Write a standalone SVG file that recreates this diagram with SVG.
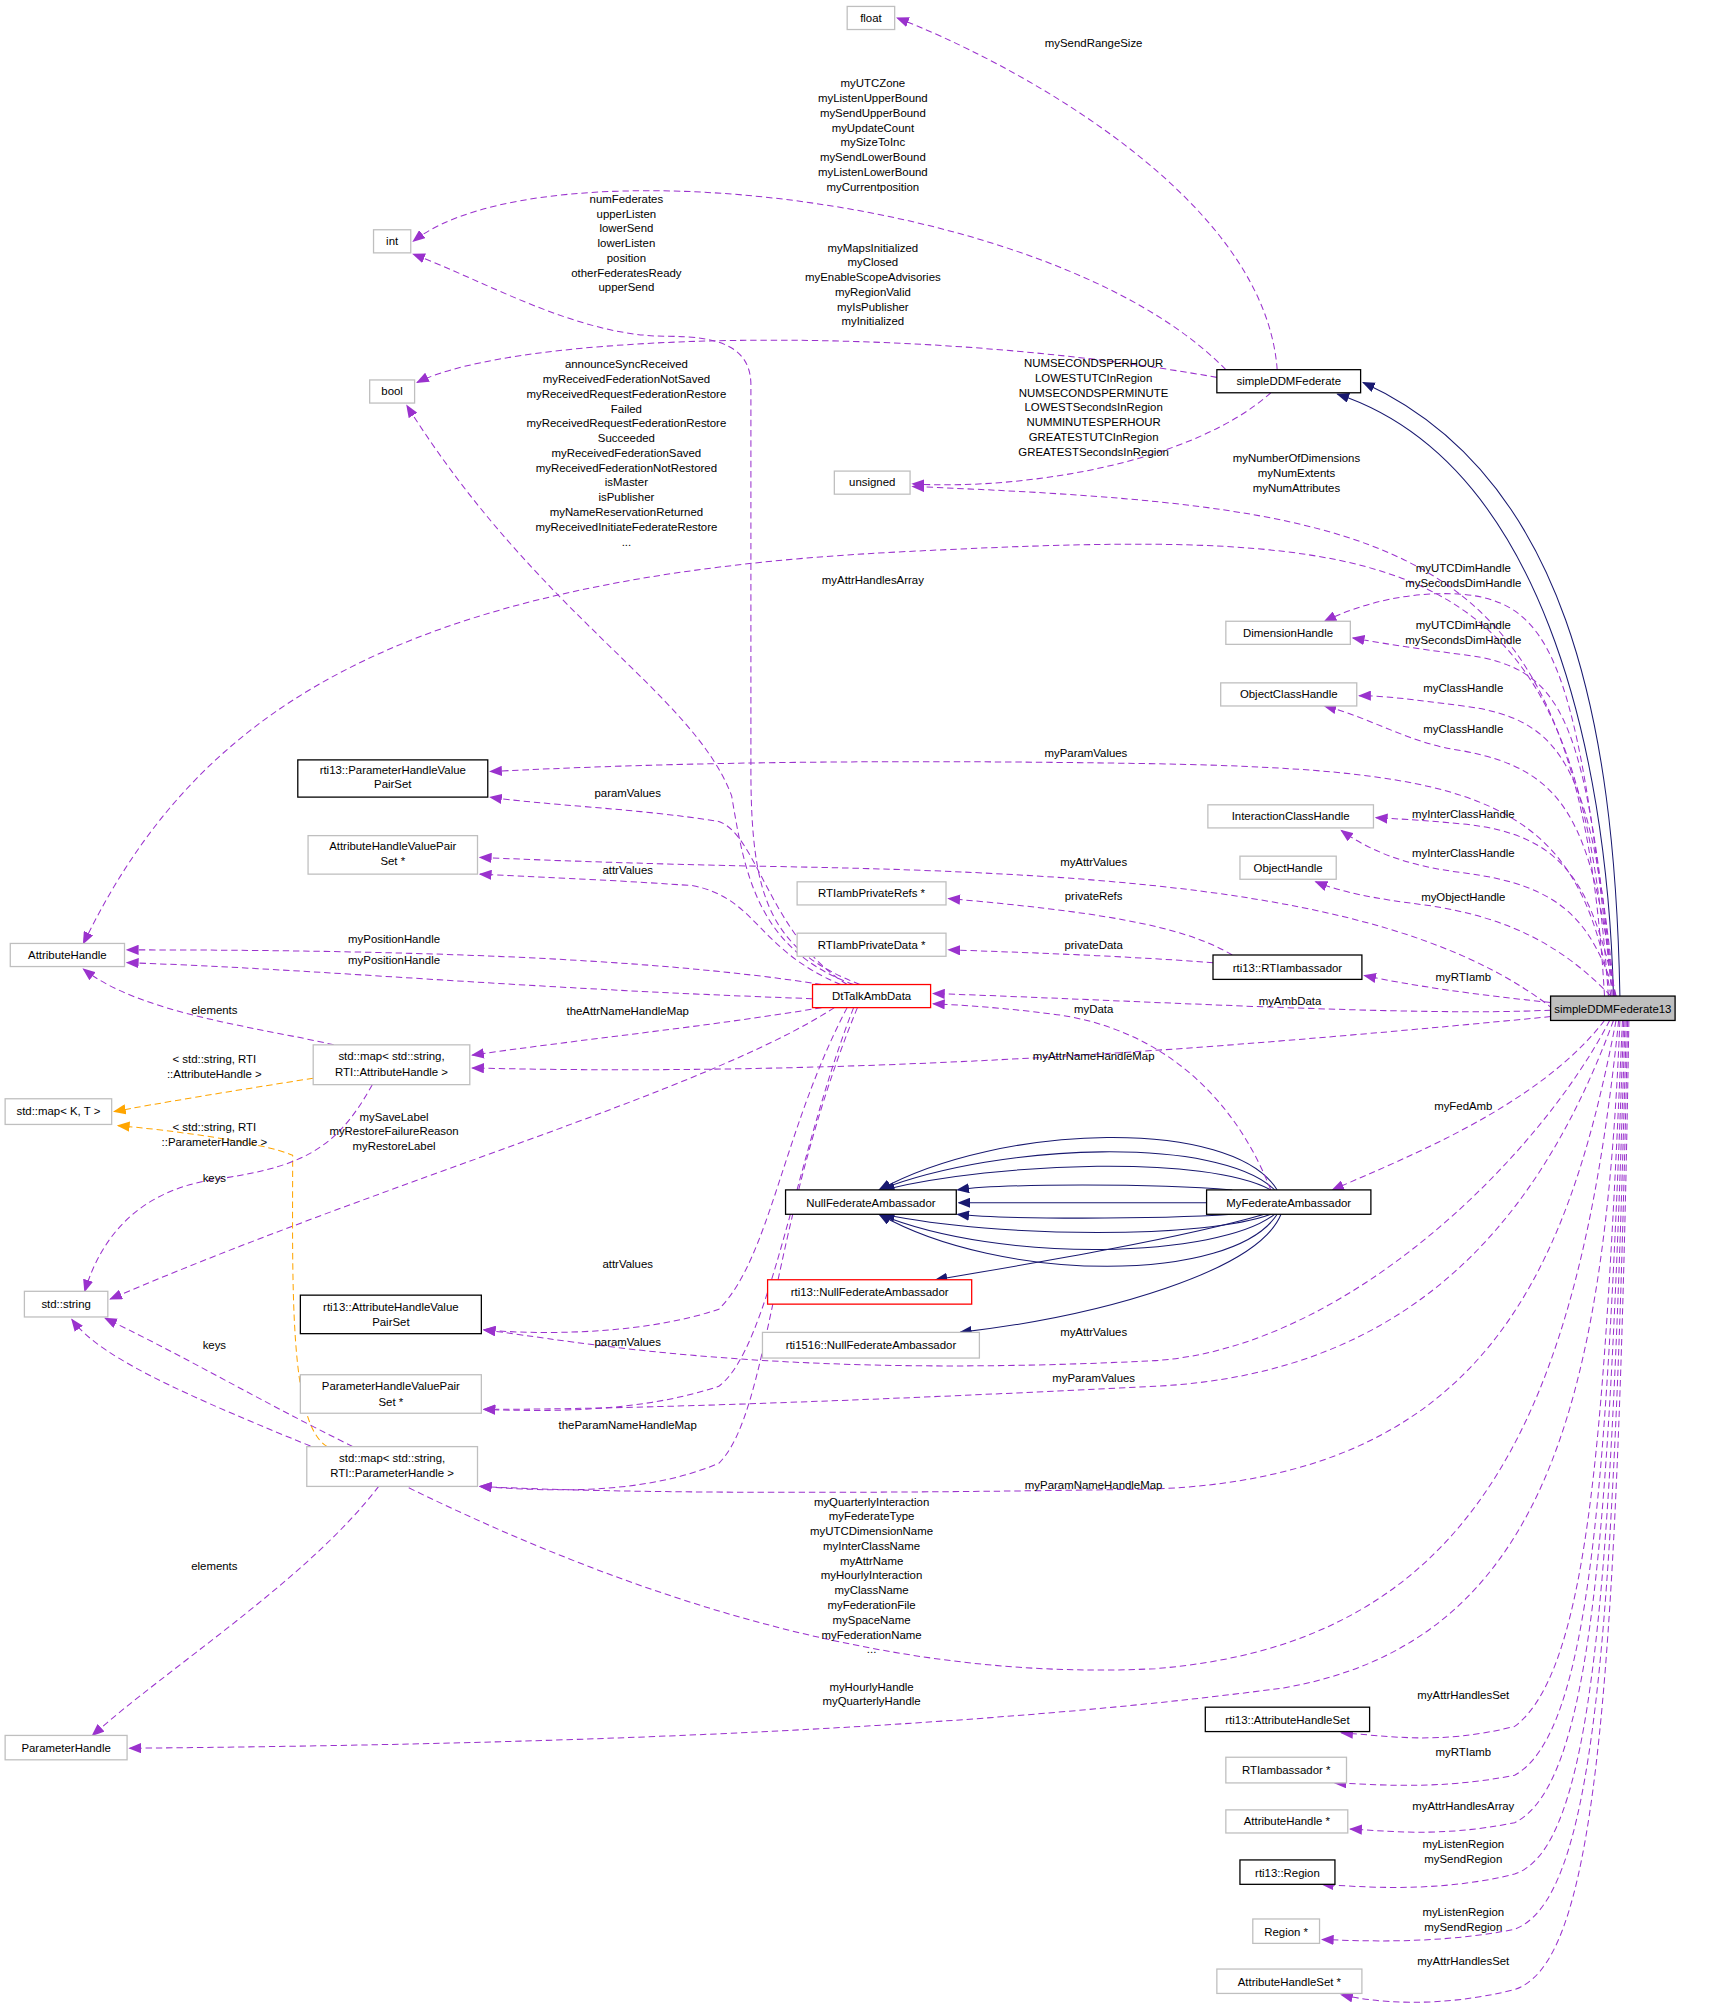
<svg xmlns="http://www.w3.org/2000/svg" width="1720" height="2015" viewBox="0 0 1720 2015">
<style>
text{font-family:"Liberation Sans",Arial,sans-serif;font-size:8.9px;fill:#000;text-anchor:middle}
.n rect{fill:#fff;stroke:#bfbfbf;stroke-width:1}
.n.b rect{stroke:#000}
.n.r rect{stroke:#f00}
.n.g rect{fill:#bfbfbf;stroke:#000}
.p{fill:none;stroke:#9a32cd;stroke-dasharray:5,3;stroke-width:0.8;marker-end:url(#mp)}
.o{fill:none;stroke:#ffa500;stroke-dasharray:5,3;stroke-width:0.8;marker-end:url(#mo)}
.s{fill:none;stroke:#191970;stroke-width:0.8;marker-end:url(#ms)}
</style>
<defs>
<marker id="mp" markerWidth="10" markerHeight="8" refX="9" refY="4" orient="auto" markerUnits="userSpaceOnUse"><path d="M0,0L10,4L0,8z" fill="#9a32cd"/></marker>
<marker id="mo" markerWidth="10" markerHeight="8" refX="9" refY="4" orient="auto" markerUnits="userSpaceOnUse"><path d="M0,0L10,4L0,8z" fill="#ffa500"/></marker>
<marker id="ms" markerWidth="10" markerHeight="8" refX="9" refY="4" orient="auto" markerUnits="userSpaceOnUse"><path d="M0,0L10,4L0,8z" fill="#191970"/></marker>
</defs>
<rect width="1720" height="2015" fill="#fff"/>
<g transform="scale(1.2836)">
<g id="connectors">
<path class="s" d="M1262,776 C1258,560 1220,370 1062,298"/>
<path class="s" d="M1257,776 C1252,580 1200,360 1042,307"/>
<path class="s" d="M995,927 C960,870 780,875 685,927"/>
<path class="s" d="M993,927 C950,885 780,890 685,927"/>
<path class="s" d="M990,927 C940,900 780,905 688,927"/>
<path class="s" d="M960,927 C900,922 780,922 746,927"/>
<path class="s" d="M940,937 L747,937"/>
<path class="s" d="M960,946 C900,950 780,950 746,946"/>
<path class="s" d="M990,946 C940,965 780,965 688,946"/>
<path class="s" d="M993,946 C950,980 780,985 685,946"/>
<path class="s" d="M995,946 C960,1000 780,1000 685,946"/>
<path class="s" d="M985,946 C920,965 800,985 729,997"/>
<path class="s" d="M998,946 C980,990 860,1025 748,1038"/>

<path class="p" d="M995,288 C985,150 780,45 699,14"/>
<path class="p" d="M955,288 C820,150 420,110 322,188"/>
<path class="p" d="M948,294 C700,250 400,260 325,298"/>
<path class="p" d="M990,306 C930,360 800,382 711,377"/>
<path class="p" d="M1250,776 C1230,420 1100,395 711,379"/>
<path class="p" d="M1253,776 C1230,420 1100,410 700,430 C300,450 150,560 65,735"/>
<path class="p" d="M1256,776 C1230,520 1210,470 1140,463 C1100,460 1060,470 1032,484"/>
<path class="p" d="M1257,776 C1235,560 1220,520 1140,510 C1100,505 1070,500 1054,497"/>
<path class="p" d="M1258,776 C1240,600 1220,560 1140,550 C1100,545 1080,542 1059,542"/>
<path class="p" d="M1258,776 C1240,640 1220,600 1140,585 C1100,580 1070,560 1032,550"/>
<path class="p" d="M1255,776 C1230,620 1150,600 900,595 C600,590 450,598 382,601"/>
<path class="p" d="M1259,776 C1240,690 1220,650 1140,642 C1100,638 1085,638 1072,637"/>
<path class="p" d="M1259,776 C1240,720 1220,690 1140,680 C1100,675 1070,665 1045,647"/>
<path class="p" d="M1255,776 C1220,740 1180,715 1110,705 C1070,700 1045,695 1025,687"/>
<path class="p" d="M1210,786 C1100,700 900,680 600,675 C500,673 420,670 374,668"/>
<path class="p" d="M1208,781 C1150,775 1100,768 1063,760"/>
<path class="p" d="M1208,787 C1100,792 900,780 727,774"/>
<path class="p" d="M1208,792 C1000,812 700,840 368,832"/>
<path class="p" d="M1250,795 C1200,860 1100,900 1038,927"/>
<path class="p" d="M1254,795 C1200,900 1050,1050 900,1060 C600,1075 450,1045 377,1036"/>
<path class="p" d="M1257,795 C1200,950 1100,1070 900,1080 C600,1095 450,1098 377,1098"/>
<path class="p" d="M1259,795 C1220,1000 1150,1150 900,1160 C600,1165 450,1162 374,1158"/>
<path class="p" d="M1261,795 C1230,1100 1150,1280 900,1300 C700,1310 500,1250 300,1150 C150,1090 80,1060 56,1028"/>
<path class="p" d="M1262,795 C1250,1100 1200,1280 1000,1315 C700,1355 300,1360 101,1362"/>
<path class="p" d="M1264,795 C1250,1100 1240,1300 1180,1345 C1120,1360 1080,1352 1045,1350"/>
<path class="p" d="M1265,795 C1252,1150 1240,1350 1180,1383 C1120,1395 1070,1390 1040,1389"/>
<path class="p" d="M1266,795 C1254,1200 1240,1390 1180,1420 C1120,1432 1080,1426 1052,1425"/>
<path class="p" d="M1267,795 C1256,1250 1240,1440 1180,1460 C1120,1475 1060,1470 1030,1468"/>
<path class="p" d="M1268,795 C1258,1300 1240,1480 1180,1503 C1120,1515 1060,1512 1030,1511"/>
<path class="p" d="M1269,795 C1260,1350 1240,1530 1180,1550 C1120,1565 1070,1560 1045,1554"/>

<path class="p" d="M670,767 C600,740 585,700 585,600 L585,300 C585,270 560,262 520,262 C450,262 380,220 322,198"/>
<path class="p" d="M665,767 C590,740 580,680 570,620 C540,540 420,480 317,316"/>
<path class="p" d="M660,767 C600,730 590,650 560,640 C500,630 420,627 382,621"/>
<path class="p" d="M655,767 C590,740 590,700 540,690 C470,685 410,683 374,681"/>
<path class="p" d="M640,767 C500,745 300,740 99,740"/>
<path class="p" d="M633,778 C400,770 250,755 99,750"/>
<path class="p" d="M640,785 C550,800 450,810 368,822"/>
<path class="p" d="M650,785 C550,850 300,920 86,1012"/>
<path class="p" d="M660,785 C610,880 600,980 560,1020 C500,1040 420,1040 377,1036"/>
<path class="p" d="M665,785 C620,900 600,1050 560,1080 C500,1100 430,1100 377,1098"/>
<path class="p" d="M668,785 C600,950 600,1100 560,1140 C500,1165 430,1162 374,1158"/>
<path class="p" d="M990,927 C960,850 900,800 820,790 C780,785 750,783 727,782"/>
<path class="p" d="M960,744 C920,720 850,710 739,700"/>
<path class="p" d="M945,750 C880,745 800,742 739,740"/>
<path class="p" d="M260,814 C200,800 110,790 65,755"/>
<path class="o" d="M244,840 C180,850 120,860 89,866"/>
<path class="o" d="M255,1127 C225,1110 228,1000 228,900 C205,890 130,880 92,877"/>
<path class="p" d="M290,845 C260,900 230,910 160,920 C110,930 80,960 66,1006"/>
<path class="p" d="M275,1127 C200,1090 150,1060 82,1027"/>
<path class="p" d="M295,1158 C240,1230 130,1300 72,1352"/>

<text x="852" y="37">mySendRangeSize</text>
<text x="680" y="68">myUTCZone</text><text x="680" y="79.5">myListenUpperBound</text><text x="680" y="91">mySendUpperBound</text><text x="680" y="102.5">myUpdateCount</text><text x="680" y="114">mySizeToInc</text><text x="680" y="125.5">mySendLowerBound</text><text x="680" y="137">myListenLowerBound</text><text x="680" y="148.5">myCurrentposition</text>
<text x="680" y="196">myMapsInitialized</text><text x="680" y="207.5">myClosed</text><text x="680" y="219">myEnableScopeAdvisories</text><text x="680" y="230.5">myRegionValid</text><text x="680" y="242">myIsPublisher</text><text x="680" y="253.5">myInitialized</text>
<text x="852" y="286">NUMSECONDSPERHOUR</text><text x="852" y="297.5">LOWESTUTCInRegion</text><text x="852" y="309">NUMSECONDSPERMINUTE</text><text x="852" y="320.5">LOWESTSecondsInRegion</text><text x="852" y="332">NUMMINUTESPERHOUR</text><text x="852" y="343.5">GREATESTUTCInRegion</text><text x="852" y="355">GREATESTSecondsInRegion</text>
<text x="1010" y="360">myNumberOfDimensions</text><text x="1010" y="371.5">myNumExtents</text><text x="1010" y="383">myNumAttributes</text>
<text x="680" y="455">myAttrHandlesArray</text>
<text x="488" y="158">numFederates</text><text x="488" y="169.5">upperListen</text><text x="488" y="181">lowerSend</text><text x="488" y="192.5">lowerListen</text><text x="488" y="204">position</text><text x="488" y="215.5">otherFederatesReady</text><text x="488" y="227">upperSend</text>
<text x="488" y="287">announceSyncReceived</text><text x="488" y="298.5">myReceivedFederationNotSaved</text><text x="488" y="310">myReceivedRequestFederationRestore</text><text x="488" y="321.5">Failed</text><text x="488" y="333">myReceivedRequestFederationRestore</text><text x="488" y="344.5">Succeeded</text><text x="488" y="356">myReceivedFederationSaved</text><text x="488" y="367.5">myReceivedFederationNotRestored</text><text x="488" y="379">isMaster</text><text x="488" y="390.5">isPublisher</text><text x="488" y="402">myNameReservationReturned</text><text x="488" y="413.5">myReceivedInitiateFederateRestore</text><text x="488" y="425">...</text>
<text x="1140" y="446">myUTCDimHandle</text><text x="1140" y="457.5">mySecondsDimHandle</text>
<text x="1140" y="490">myUTCDimHandle</text><text x="1140" y="501.5">mySecondsDimHandle</text>
<text x="1140" y="539">myClassHandle</text>
<text x="1140" y="571">myClassHandle</text>
<text x="846" y="590">myParamValues</text>
<text x="1140" y="637">myInterClassHandle</text>
<text x="1140" y="668">myInterClassHandle</text>
<text x="1140" y="702">myObjectHandle</text>
<text x="489" y="621">paramValues</text>
<text x="489" y="681">attrValues</text>
<text x="852" y="675">myAttrValues</text>
<text x="852" y="701">privateRefs</text>
<text x="852" y="739">privateData</text>
<text x="307" y="735">myPositionHandle</text>
<text x="307" y="751">myPositionHandle</text>
<text x="1140" y="764">myRTIamb</text>
<text x="1005" y="783">myAmbData</text>
<text x="852" y="789">myData</text>
<text x="489" y="791">theAttrNameHandleMap</text>
<text x="852" y="826">myAttrNameHandleMap</text>
<text x="167" y="790">elements</text>
<text x="167" y="828">&lt; std::string, RTI</text><text x="167" y="839.5">::AttributeHandle &gt;</text>
<text x="167" y="881">&lt; std::string, RTI</text><text x="167" y="892.5">::ParameterHandle &gt;</text>
<text x="307" y="873">mySaveLabel</text><text x="307" y="884.5">myRestoreFailureReason</text><text x="307" y="896">myRestoreLabel</text>
<text x="167" y="921">keys</text>
<text x="1140" y="865">myFedAmb</text>
<text x="489" y="988">attrValues</text>
<text x="489" y="1049">paramValues</text>
<text x="852" y="1041">myAttrValues</text>
<text x="852" y="1077">myParamValues</text>
<text x="167" y="1051">keys</text>
<text x="489" y="1113">theParamNameHandleMap</text>
<text x="852" y="1160">myParamNameHandleMap</text>
<text x="679" y="1173">myQuarterlyInteraction</text><text x="679" y="1184.5">myFederateType</text><text x="679" y="1196">myUTCDimensionName</text><text x="679" y="1207.5">myInterClassName</text><text x="679" y="1219">myAttrName</text><text x="679" y="1230.5">myHourlyInteraction</text><text x="679" y="1242">myClassName</text><text x="679" y="1253.5">myFederationFile</text><text x="679" y="1265">mySpaceName</text><text x="679" y="1276.5">myFederationName</text><text x="679" y="1288">...</text>
<text x="167" y="1223">elements</text>
<text x="679" y="1317">myHourlyHandle</text><text x="679" y="1328.5">myQuarterlyHandle</text>
<text x="1140" y="1324">myAttrHandlesSet</text>
<text x="1140" y="1368">myRTIamb</text>
<text x="1140" y="1410">myAttrHandlesArray</text>
<text x="1140" y="1440">myListenRegion</text><text x="1140" y="1451.5">mySendRegion</text>
<text x="1140" y="1493">myListenRegion</text><text x="1140" y="1504.5">mySendRegion</text>
<text x="1140" y="1531">myAttrHandlesSet</text>
</g>

<g id="n_float" class="n"><rect x="660" y="5" width="37" height="18"/><text x="678.5" y="17">float</text></g>
<g id="n_int" class="n"><rect x="291" y="179" width="29" height="18"/><text x="305.5" y="191">int</text></g>
<g id="n_bool" class="n"><rect x="288" y="296" width="35" height="18"/><text x="305.5" y="308">bool</text></g>
<g id="n_unsigned" class="n"><rect x="650" y="367" width="59" height="18"/><text x="679.5" y="379">unsigned</text></g>
<g id="n_simpleDDMFederate" class="n b"><rect x="948" y="288" width="112" height="18"/><text x="1004" y="300">simpleDDMFederate</text></g>
<g id="n_DimensionHandle" class="n"><rect x="955" y="484" width="97" height="18"/><text x="1003.5" y="496">DimensionHandle</text></g>
<g id="n_ObjectClassHandle" class="n"><rect x="951" y="532" width="106" height="18"/><text x="1004" y="544">ObjectClassHandle</text></g>
<g id="n_rti13PHVPS" class="n b"><rect x="232" y="592" width="148" height="29"/><text x="306" y="603">rti13::ParameterHandleValue</text><text x="306" y="614">PairSet</text></g>
<g id="n_InteractionClassHandle" class="n"><rect x="941" y="627" width="129" height="18"/><text x="1005.5" y="639">InteractionClassHandle</text></g>
<g id="n_ObjectHandle" class="n"><rect x="966" y="667" width="75" height="18"/><text x="1003.5" y="679">ObjectHandle</text></g>
<g id="n_AHVPS_ptr" class="n"><rect x="240" y="651" width="132" height="30"/><text x="306" y="662">AttributeHandleValuePair</text><text x="306" y="674">Set *</text></g>
<g id="n_RTIambPrivateRefs" class="n"><rect x="621" y="687" width="116" height="18"/><text x="679" y="699">RTIambPrivateRefs *</text></g>
<g id="n_RTIambPrivateData" class="n"><rect x="621" y="727" width="116" height="18"/><text x="679" y="739">RTIambPrivateData *</text></g>
<g id="n_rti13RTIambassador" class="n b"><rect x="945" y="744" width="116" height="19"/><text x="1003" y="757">rti13::RTIambassador</text></g>
<g id="n_AttributeHandle" class="n"><rect x="8" y="735" width="89" height="18"/><text x="52.5" y="747">AttributeHandle</text></g>
<g id="n_DtTalkAmbData" class="n r"><rect x="633" y="767" width="92" height="18"/><text x="679" y="779">DtTalkAmbData</text></g>
<g id="n_simpleDDMFederate13" class="n g"><rect x="1208" y="776" width="97" height="19"/><text x="1256.5" y="789">simpleDDMFederate13</text></g>
<g id="n_mapAttr" class="n"><rect x="244" y="814" width="122" height="31"/><text x="305" y="826">std::map&lt; std::string,</text><text x="305" y="838">RTI::AttributeHandle &gt;</text></g>
<g id="n_mapKT" class="n"><rect x="4" y="856" width="83" height="20"/><text x="45.5" y="869">std::map&lt; K, T &gt;</text></g>
<g id="n_string" class="n"><rect x="19" y="1006" width="65" height="20"/><text x="51.5" y="1019">std::string</text></g>
<g id="n_NullFederateAmbassador" class="n b"><rect x="612" y="927" width="133" height="19"/><text x="678.5" y="940">NullFederateAmbassador</text></g>
<g id="n_MyFederateAmbassador" class="n b"><rect x="940" y="927" width="128" height="19"/><text x="1004" y="940">MyFederateAmbassador</text></g>
<g id="n_rti13Null" class="n r"><rect x="598" y="997" width="159" height="19"/><text x="677.5" y="1010">rti13::NullFederateAmbassador</text></g>
<g id="n_rti1516Null" class="n"><rect x="594" y="1038" width="169" height="20"/><text x="678.5" y="1051">rti1516::NullFederateAmbassador</text></g>
<g id="n_rti13AHVPS" class="n b"><rect x="234" y="1009" width="141" height="30"/><text x="304.5" y="1021">rti13::AttributeHandleValue</text><text x="304.5" y="1033">PairSet</text></g>
<g id="n_PHVPS_ptr" class="n"><rect x="234" y="1071" width="141" height="30"/><text x="304.5" y="1083">ParameterHandleValuePair</text><text x="304.5" y="1095">Set *</text></g>
<g id="n_mapParam" class="n"><rect x="239" y="1127" width="133" height="31"/><text x="305.5" y="1139">std::map&lt; std::string,</text><text x="305.5" y="1151">RTI::ParameterHandle &gt;</text></g>
<g id="n_ParameterHandle" class="n"><rect x="4" y="1352" width="95" height="19"/><text x="51.5" y="1365">ParameterHandle</text></g>
<g id="n_rti13AHS" class="n b"><rect x="939" y="1330" width="128" height="19"/><text x="1003" y="1343">rti13::AttributeHandleSet</text></g>
<g id="n_RTIambassador_ptr" class="n"><rect x="955" y="1369" width="94" height="20"/><text x="1002" y="1382">RTIambassador *</text></g>
<g id="n_AttributeHandle_ptr" class="n"><rect x="955" y="1410" width="95" height="18"/><text x="1002.5" y="1422">AttributeHandle *</text></g>
<g id="n_rti13Region" class="n b"><rect x="966" y="1449" width="74" height="19"/><text x="1003" y="1462">rti13::Region</text></g>
<g id="n_Region_ptr" class="n"><rect x="976" y="1495" width="52" height="19"/><text x="1002" y="1508">Region *</text></g>
<g id="n_AHS_ptr" class="n"><rect x="948" y="1534" width="113" height="19"/><text x="1004.5" y="1547">AttributeHandleSet *</text></g>
</g>
</svg>
